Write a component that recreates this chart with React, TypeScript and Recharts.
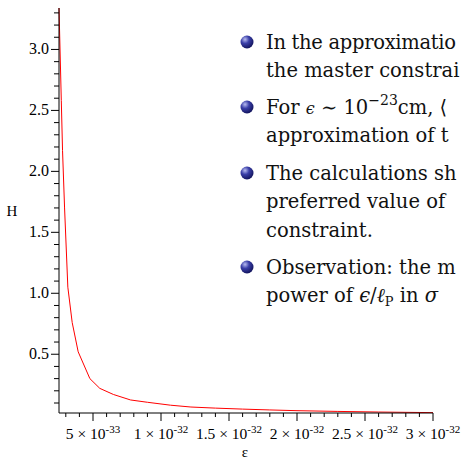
import React from 'react';
import { LineChart, Line, XAxis, YAxis } from 'recharts';

// ε in units of 1e-33, H
const eps = [2.5, 2.67, 2.76, 2.91, 3.15, 3.47, 3.91, 4.77, 5.5, 6.5, 7.76, 9.0, 10.7, 12.2, 14, 16, 18, 20, 23, 26, 30];
const hValues = [3.34, 2.58, 2.17, 1.7, 1.05, 0.76, 0.52, 0.3, 0.22, 0.17, 0.125, 0.106, 0.082, 0.067, 0.058, 0.05, 0.043, 0.037, 0.031, 0.026, 0.021];

const xTicks = [3, 4, 5, 6, 7, 8, 9, 10, 11, 12, 13, 14, 15, 16, 17, 18, 19, 20, 21, 22, 23, 24, 25, 26, 27, 28, 29, 30];
const xMajor = [5, 10, 15, 20, 25, 30];
const xMantissa = ['5', '1', '1.5', '2', '2.5', '3'];
const xExponent = ['-33', '-32', '-32', '-32', '-32', '-32'];

const yTicks = [0.1, 0.2, 0.3, 0.4, 0.5, 0.6, 0.7, 0.8, 0.9, 1.0, 1.1, 1.2, 1.3, 1.4, 1.5, 1.6, 1.7, 1.8, 1.9, 2.0, 2.1, 2.2, 2.3, 2.4, 2.5, 2.6, 2.7, 2.8, 2.9, 3.0, 3.1, 3.2, 3.3];
const yMajor = [0.5, 1.0, 1.5, 2.0, 2.5, 3.0];
const yLabels = ['0.5', '1.0', '1.5', '2.0', '2.5', '3.0'];

// slide text as far as it shows before the right edge
const bullets = [
  ['In the approximatio', 'the master constrai'],
  ['For', 'approximation of t'],
  ['The calculations sh', 'preferred value of', 'constraint.'],
  ['Observation: the m', 'power of'],
];

const data = eps.map((e, i) => ({ e, h: hValues[i] }));

const FONT = '"Liberation Serif", "Times New Roman", serif';
const SLIDE_FONT = '"DejaVu Serif", serif';

const XTick = (props: any) => {
  const { x, y, payload } = props;
  const v = payload.value;
  const idx = xMajor.findIndex((m) => Math.abs(m - v) < 1e-9);
  if (idx < 0) {
    return <line x1={x} y1={y} x2={x} y2={y + 4} stroke="#000" />;
  }
  return (
    <g>
      <line x1={x} y1={y} x2={x} y2={y + 8} stroke="#000" />
      <text x={x} y={y + 26} textAnchor="middle" fontFamily={FONT} fontSize={15.5} fill="#000">
        {xMantissa[idx]} × 10
        <tspan dy={-6} fontSize={11}>{xExponent[idx]}</tspan>
      </text>
    </g>
  );
};

const YTick = (props: any) => {
  const { x, y, payload } = props;
  const v = payload.value;
  const idx = yMajor.findIndex((m) => Math.abs(m - v) < 1e-9);
  if (idx < 0) {
    return <line x1={x - 5} y1={y} x2={x} y2={y} stroke="#000" />;
  }
  return (
    <g>
      <line x1={x - 8} y1={y} x2={x} y2={y} stroke="#000" />
      <text x={x - 10} y={y + 5} textAnchor="end" fontFamily={FONT} fontSize={16} fill="#000">
        {yLabels[idx]}
      </text>
    </g>
  );
};

const Ball = ({ cx, cy }: { cx: number; cy: number }) => (
  <circle cx={cx} cy={cy} r={6.5} fill="url(#ball)" />
);

const App: React.FC = () => {
  const lineY = [49, 77, 114, 142, 180, 208, 237, 274, 302];
  const ballY = [42, 107, 173, 267];
  return (
    <div style={{ position: 'absolute', left: 0, top: 0, width: 463, height: 462, overflow: 'hidden', background: '#fff' }}>
      <LineChart width={463} height={462} data={data} margin={{ top: 8, right: 30, bottom: 0, left: 9 }}>
        <XAxis
          dataKey="e"
          type="number"
          domain={[2.5, 30]}
          ticks={xTicks}
          interval={0}
          tickSize={0}
          tickMargin={0}
          tickLine={false}
          height={49}
          stroke="#000"
          tick={<XTick />}
        />
        <YAxis
          type="number"
          domain={[0.018, 3.34]}
          allowDataOverflow
          ticks={yTicks}
          interval={0}
          tickSize={0}
          tickMargin={0}
          tickLine={false}
          width={50}
          stroke="#000"
          tick={<YTick />}
        />
        <Line type="linear" dataKey="h" stroke="#ff0000" strokeWidth={1} dot={false} isAnimationActive={false} />
      </LineChart>
      <svg width={463} height={462} style={{ position: 'absolute', left: 0, top: 0, pointerEvents: 'none' }}>
        <defs>
          <radialGradient id="ball" cx="35%" cy="30%" r="70%">
            <stop offset="0%" stopColor="#b8bcf0" />
            <stop offset="45%" stopColor="#3a3fa8" />
            <stop offset="100%" stopColor="#141660" />
          </radialGradient>
        </defs>
        <text x={12} y={216} textAnchor="middle" fontFamily={FONT} fontSize={15}>H</text>
        <text x={245} y={457} textAnchor="middle" fontFamily={FONT} fontSize={15}>ε</text>
        {ballY.map((b, i) => (
          <Ball key={i} cx={247} cy={b} />
        ))}
        <g fontFamily={SLIDE_FONT} fontSize={19.5} fill="#111">
          <text x={266} y={lineY[0]} letterSpacing={-0.3}>{bullets[0][0]}</text>
          <text x={266} y={lineY[1]}>{bullets[0][1]}</text>
          <text x={266} y={lineY[2]}>
            {bullets[1][0]} <tspan fontStyle="italic" fontSize={16}>ϵ</tspan> ∼ 10
            <tspan dy={-9} fontSize={14}>−23</tspan>
            <tspan dy={9}>cm, ⟨</tspan>
          </text>
          <text x={266} y={lineY[3]}>{bullets[1][1]}</text>
          <text x={266} y={lineY[4]}>{bullets[2][0]}</text>
          <text x={266} y={lineY[5]}>{bullets[2][1]}</text>
          <text x={266} y={lineY[6]}>{bullets[2][2]}</text>
          <text x={266} y={lineY[7]}>{bullets[3][0]}</text>
          <text x={266} y={lineY[8]}>
            {bullets[3][1]} <tspan fontStyle="italic">ϵ</tspan>/<tspan fontStyle="italic">ℓ</tspan>
            <tspan dy={4} fontSize={13}>P</tspan>
            <tspan dy={-4}> in </tspan>
            <tspan fontStyle="italic">σ</tspan>
          </text>
        </g>
      </svg>
    </div>
  );
};

export default App;
